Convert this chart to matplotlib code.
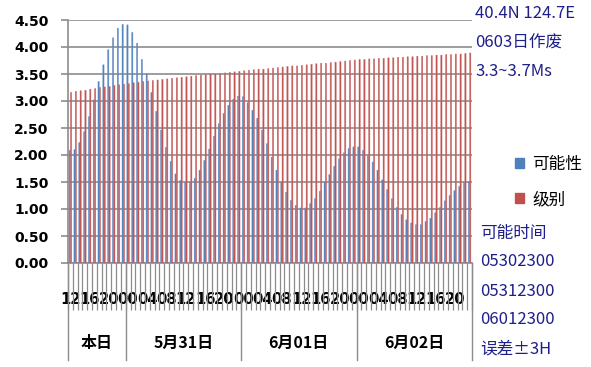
import matplotlib.pyplot as plt
from matplotlib.patches import Patch
import numpy as np

plt.rcParams['font.family'] = ['Noto Sans CJK SC', 'DejaVu Sans']

# hourly categories, 5/30 12:00 -> 6/02 23:00
hour_labels = ['12', '16', '20', '00', '04', '08', '12', '16', '20', '00', '04',
               '08', '12', '16', '20', '00', '04', '08', '12', '16', '20']
groups = ['本日', '5月31日', '6月01日', '6月02日']
group_edges = [-0.5, 11.5, 35.5, 59.5, 83.5]

possibility = [2.09, 2.10, 2.23, 2.43, 2.71, 3.02, 3.36, 3.67, 3.95, 4.17, 4.35,
               4.42, 4.41, 4.27, 4.07, 3.77, 3.51, 3.16, 2.81, 2.46, 2.14, 1.88,
               1.65, 1.53, 1.50, 1.50, 1.57, 1.72, 1.90, 2.11, 2.35, 2.58, 2.77,
               2.92, 3.03, 3.09, 3.08, 2.97, 2.83, 2.68, 2.46, 2.21, 1.96, 1.72,
               1.50, 1.31, 1.16, 1.07, 1.02, 1.02, 1.10, 1.19, 1.33, 1.50, 1.64,
               1.79, 1.93, 2.04, 2.12, 2.15, 2.15, 2.09, 1.99,
               1.87, 1.72, 1.54, 1.36, 1.19, 1.03, 0.90, 0.80, 0.74, 0.71, 0.71,
               0.77, 0.83, 0.93, 1.03, 1.15, 1.25, 1.34, 1.42, 1.49, 1.51]

level = [3.16, 3.18, 3.19, 3.20, 3.22, 3.23, 3.25, 3.26, 3.27, 3.29, 3.30,
         3.31, 3.32, 3.34, 3.35, 3.36, 3.37, 3.38, 3.39, 3.40, 3.41, 3.42,
         3.43, 3.44, 3.45, 3.46, 3.47, 3.48, 3.49, 3.50, 3.50, 3.51, 3.52,
         3.53, 3.54, 3.55, 3.56, 3.57, 3.58, 3.59, 3.59, 3.60, 3.61, 3.62,
         3.63, 3.64, 3.65, 3.65, 3.66, 3.67, 3.68, 3.69, 3.70, 3.70, 3.71,
         3.72, 3.73, 3.74, 3.75, 3.76, 3.77,
         3.77, 3.78, 3.78, 3.79, 3.79, 3.80, 3.80, 3.81, 3.81, 3.82, 3.82,
         3.83, 3.83, 3.84, 3.84, 3.85, 3.85, 3.86, 3.86, 3.87, 3.87, 3.88, 3.89]

side_top = ['40.4N 124.7E', '0603日作废', '3.3~3.7Ms']
side_bottom = ['可能时间', '05302300', '05312300', '06012300', '误差±3H']

W, H = 591, 367
fig = plt.figure(figsize=(W / 100, H / 100), dpi=100)
ax = fig.add_axes([68 / W, 1 - 263 / H, (472 - 68) / W, (263 - 20) / H])

x = np.arange(len(possibility))
bw = 0.27
ax.bar(x - bw / 2, possibility, bw, color='#4F81BD', edgecolor='#6d95c8',
       lw=0.3, snap=False, zorder=3)
ax.bar(x + bw / 2, level, bw, color='#C0504D', edgecolor='#cc7270',
       lw=0.3, snap=False, zorder=3)

ax.set_xlim(-0.5, len(x) - 0.5)
ax.set_ylim(0, 4.5)
ax.set_yticks(np.arange(0, 4.51, 0.5))
ax.set_yticklabels([f'{v:.2f}' for v in np.arange(0, 4.51, 0.5)])
ax.grid(axis='y', color='#8c8c8c', lw=1.2, zorder=0)
ax.tick_params(axis='y', length=5, color='#8c8c8c', width=1.2, pad=9)

# category labels every 4 hours, tick lines at every hour boundary
ax.set_xticks(x[::4])
ax.set_xticklabels(hour_labels)
ax.tick_params(axis='x', length=0, pad=21)
ax.set_xticks(np.arange(-0.5, len(x), 1), minor=True)
ax.tick_params(axis='x', which='minor', length=34, color='#8c8c8c', width=0.9)

for lab in ax.get_yticklabels():
    lab.set_fontfamily('DejaVu Sans')
    lab.set_fontweight('bold')
    lab.set_fontsize(10)
for lab in ax.get_xticklabels():
    lab.set_fontfamily('DejaVu Sans')
    lab.set_fontweight('bold')
    lab.set_fontsize(10.6)

for s in ['top', 'right']:
    ax.spines[s].set_visible(False)
for s in ['left', 'bottom']:
    ax.spines[s].set_color('#8c8c8c')
    ax.spines[s].set_linewidth(1.2)

trans = ax.get_xaxis_transform()
for e in group_edges:
    ax.plot([e, e], [0, -0.40], color='#8c8c8c', lw=1.0, transform=trans,
            clip_on=False)
for i, g in enumerate(groups):
    mid = (group_edges[i] + group_edges[i + 1]) / 2
    ax.text(mid, -0.33, g, transform=trans, ha='center', va='center',
            fontsize=11.5, fontweight='bold')

handles = [Patch(color='#4F81BD'), Patch(color='#C0504D')]
fig.legend(handles, ['可能性', '级别'], loc='center left',
           bbox_to_anchor=(500 / W, 1 - 182 / H), frameon=False, fontsize=12,
           handlelength=0.55, handleheight=0.55, handletextpad=0.5,
           labelspacing=1.1)

navy = '#1f1f8c'
for i, t in enumerate(side_top):
    fig.text(475 / W, 1 - (14 + 29 * i) / H, t, color=navy, fontsize=12,
             va='center')
for i, t in enumerate(side_bottom):
    fig.text(480 / W, 1 - (233 + 29 * i) / H, t, color=navy, fontsize=12,
             va='center')

fig.savefig('out.png', dpi=100)
